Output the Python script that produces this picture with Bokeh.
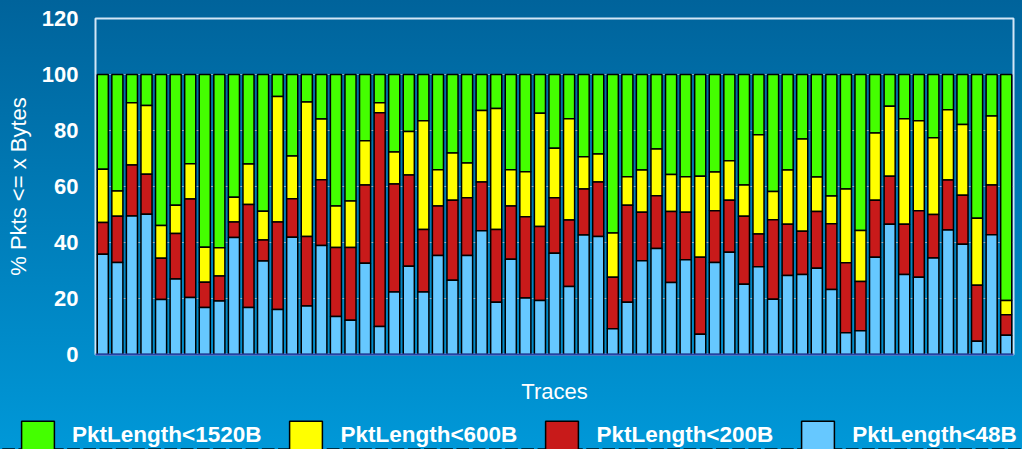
from bokeh.plotting import figure
from bokeh.models import (ColumnDataSource, FixedTicker, Legend, LegendItem,
                          GlobalInlineStyleSheet, Range1d)
from bokeh.embed import file_html
from bokeh.resources import INLINE

# ---- data: cumulative % of packets ----
traces = list(range(1, 64))
le48 = [35.8, 32.9, 49.5, 50.1, 19.6, 27.0, 20.4, 16.8, 19.1, 41.8,
        16.8, 33.4, 16.1, 41.9, 17.3, 38.9, 13.6, 12.2, 32.6, 10.0,
        22.3, 31.5, 22.3, 35.4, 26.5, 35.4, 44.2, 18.7, 34.0, 20.2,
        19.3, 36.2, 24.3, 42.7, 42.1, 9.2, 18.7, 33.5, 37.9, 25.7,
        33.8, 7.2, 32.9, 36.5, 25.1, 31.3, 19.7, 28.2, 28.6, 30.8,
        23.2, 7.8, 8.5, 34.7, 46.5, 28.6, 27.6, 34.5, 44.5, 39.4,
        4.7, 42.8, 6.9]
le200 = [47.1, 49.4, 67.7, 64.4, 34.4, 43.2, 55.5, 25.8, 28.0, 47.3,
         53.6, 40.9, 47.3, 55.6, 42.1, 62.4, 38.2, 38.2, 60.5, 86.3,
         60.9, 64.1, 44.6, 53.0, 55.1, 56.0, 61.6, 44.6, 53.0, 49.2,
         45.7, 56.0, 48.0, 59.1, 61.6, 27.6, 53.3, 50.8, 56.7, 51.1,
         50.8, 34.7, 51.3, 55.1, 49.4, 43.0, 48.1, 46.5, 44.0, 51.1,
         46.7, 32.8, 26.1, 55.1, 63.7, 46.5, 51.3, 50.0, 62.3, 56.9,
         24.7, 60.5, 14.2]
le600 = [66.2, 58.4, 89.9, 88.9, 46.1, 53.3, 68.1, 38.3, 38.1, 56.2,
         68.0, 51.2, 92.1, 70.9, 90.2, 84.1, 53.0, 54.8, 76.3, 89.9,
         72.3, 79.6, 83.5, 66.0, 72.0, 68.4, 87.1, 87.9, 66.0, 65.3,
         86.2, 73.7, 84.2, 70.6, 71.6, 43.4, 63.5, 65.9, 73.4, 64.3,
         63.5, 63.7, 65.2, 69.2, 60.5, 78.5, 58.2, 65.9, 77.0, 63.4,
         56.6, 59.1, 44.3, 79.1, 88.7, 84.2, 83.5, 77.4, 87.4, 82.1,
         48.7, 85.2, 19.3]
le1520 = [100.0] * 63
zero = [0.0] * 63

series_labels = ["PktLength<1520B", "PktLength<600B", "PktLength<200B", "PktLength<48B"]
series_colors = ["#44ff00", "#ffff00", "#c81a1a", "#66c8ff"]
y_ticks = [0, 20, 40, 60, 80, 100, 120]

src = ColumnDataSource(dict(x=traces, zero=zero, le48=le48, le200=le200,
                            le600=le600, le1520=le1520))
tops = ["le1520", "le600", "le200", "le48"]
bottoms = ["le600", "le200", "le48", "zero"]

FONT = "Liberation Sans"
W = 1022
H_MAIN, H_LEG = 412, 37

p = figure(width=W, height=H_MAIN, output_backend="svg", toolbar_location=None,
           x_range=Range1d(0.5, 63.5), y_range=Range1d(0, 120),
           min_border_left=95, min_border_right=9, min_border_top=18,
           min_border_bottom=58)

p.background_fill_alpha = 0
p.border_fill_alpha = 0
p.outline_line_color = "#d2e6f6"
p.outline_line_width = 2

css = GlobalInlineStyleSheet(css=(
    "html{height:100%;background:linear-gradient(180deg,#00639b 0%,#0098d8 100%);}"
    "body{background:transparent;}"))
p.stylesheets = [css]

bw = 0.76
for t, b, c in zip(tops, bottoms, series_colors):
    p.vbar(x="x", bottom=b, top=t, fill_color=c, line_color="black",
           line_width=1.5, width=bw, source=src)

# axes
p.xaxis.ticker = FixedTicker(ticks=[])
p.xaxis.axis_label = "Traces"
p.xaxis.axis_label_text_font = FONT
p.xaxis.axis_label_text_font_style = "normal"
p.xaxis.axis_label_text_font_size = "22px"
p.xaxis.axis_label_text_color = "white"
p.xaxis.axis_label_standoff = 24
p.xaxis.axis_line_color = "#2540a8"
p.xaxis.axis_line_width = 2
p.xaxis.major_tick_line_color = None
p.xaxis.minor_tick_line_color = None

p.yaxis.ticker = FixedTicker(ticks=y_ticks)
p.yaxis.axis_label = "% Pkts <= x Bytes"
p.yaxis.axis_label_text_font = FONT
p.yaxis.axis_label_text_font_style = "normal"
p.yaxis.axis_label_text_font_size = "22px"
p.yaxis.axis_label_text_color = "white"
p.yaxis.axis_label_standoff = 8
p.yaxis.major_label_text_font = FONT
p.yaxis.major_label_text_font_style = "bold"
p.yaxis.major_label_text_font_size = "22px"
p.yaxis.major_label_text_color = "white"
p.yaxis.major_label_standoff = 17
p.yaxis.axis_line_color = None
p.yaxis.major_tick_line_color = None
p.yaxis.major_tick_out = 0
p.yaxis.major_tick_in = 0
p.yaxis.minor_tick_line_color = None

p.xgrid.grid_line_color = None
p.ygrid.ticker = FixedTicker(ticks=y_ticks)
p.ygrid.grid_line_color = "#a8c0d2"
p.ygrid.grid_line_alpha = 0.8
p.ygrid.grid_line_width = 1

# ---- legend strip (separate root figure; its bars lie outside its y range) ----
q = figure(width=W, height=H_LEG, output_backend="svg", toolbar_location=None,
           x_axis_type=None, y_axis_type=None,
           x_range=Range1d(0.5, 63.5), y_range=Range1d(200, 300),
           min_border_left=0, min_border_right=0, min_border_top=0,
           min_border_bottom=0)
q.background_fill_alpha = 0
q.border_fill_alpha = 0
q.outline_line_color = None
q.xgrid.grid_line_color = None
q.ygrid.grid_line_color = None

items = []
for lab, t, b, c in zip(series_labels, tops, bottoms, series_colors):
    rr = q.vbar(x="x", bottom=b, top=t, fill_color=c, line_color="black",
                line_width=1.5, width=bw, source=src)
    items.append(LegendItem(label=lab, renderers=[rr]))

legend = Legend(items=items, orientation="horizontal", location=(17, -4.5))
legend.padding = 0
legend.margin = 0
legend.spacing = 24
legend.label_standoff = 14
legend.glyph_width = 41
legend.glyph_height = 37
legend.label_text_font = FONT
legend.label_text_font_style = "bold"
legend.label_text_font_size = "22.5px"
legend.label_text_color = "white"
legend.label_text_baseline = "middle"
legend.background_fill_alpha = 0
legend.border_line_alpha = 0
q.add_layout(legend, "center")

open("out.html", "w").write(file_html((p, q), INLINE))
